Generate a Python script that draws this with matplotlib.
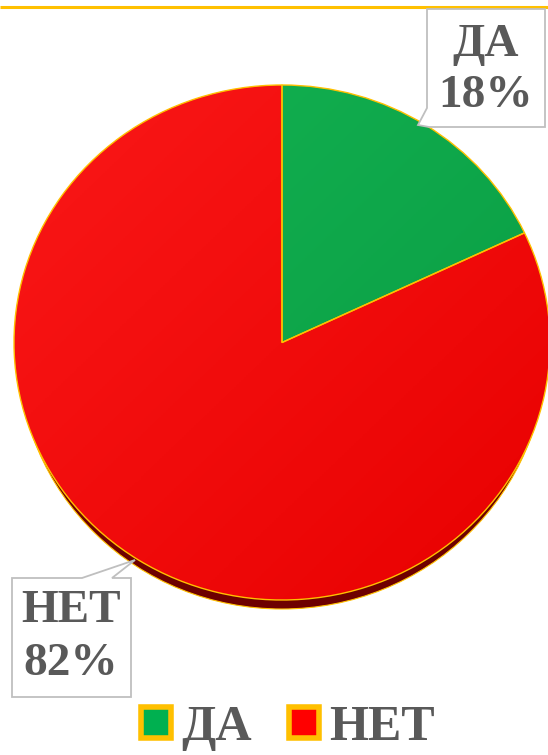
import numpy as np
import matplotlib
matplotlib.use("Agg")
import matplotlib.pyplot as plt
from matplotlib.patches import Patch, Ellipse, Polygon
from matplotlib.colors import LinearSegmentedColormap

labels = ["ДА", "НЕТ"]
values = [18, 82]
colors = ["#0BA84A", "#F20D0D"]
grad = [("#14B352", "#089A42"), ("#FA1818", "#E80000")]
legend_colors = ["#00B050", "#FF0000"]

W, H = 548, 755
fig = plt.figure(figsize=(W / 100, H / 100), dpi=100)

ov = fig.add_axes([0, 0, 1, 1], zorder=3)
ov.set_xlim(0, W)
ov.set_ylim(H, 0)
ov.axis("off")
ov.patch.set_alpha(0)

bg = fig.add_axes([0, 0, 1, 1], zorder=0)
bg.set_xlim(0, W)
bg.set_ylim(H, 0)
bg.axis("off")
bg.plot([0, W], [7, 7], color="#FFC000", lw=2.2, solid_capstyle="butt")

# pie placement (pixels)
px0, px1, py0, py1 = 14, 550, 85, 600
bg.add_patch(Ellipse(((px0 + px1) / 2, (py0 + py1) / 2 + 9), px1 - px0 - 8, py1 - py0,
                     facecolor="#6E0000", edgecolor="#FFC000", lw=0.8))

pax = fig.add_axes([px0 / W, 1 - py1 / H, (px1 - px0) / W, (py1 - py0) / H], zorder=1)
wedges, _ = pax.pie(values, colors=colors, startangle=90, counterclock=False,
                    wedgeprops=dict(edgecolor="#FFC000", linewidth=1.0))
pax.set_aspect("auto")
pax.set_xlim(-1, 1)
pax.set_ylim(-1, 1)
pax.axis("off")

yy, xx = np.mgrid[1:-1:300j, -1:1:300j]
t = ((xx - yy) + 2) / 4
for w, (c0, c1) in zip(wedges, grad):
    cmap = LinearSegmentedColormap.from_list("g", [c0, c1])
    im = pax.imshow(t, cmap=cmap, extent=(-1, 1, -1, 1), aspect="auto", zorder=1.5, vmin=0, vmax=1)
    im.set_clip_path(w)
for w in wedges:
    w.set_zorder(2)
    w.set_facecolor("none")

font = dict(family=["Liberation Serif", "DejaVu Serif"], weight="bold", color="#595959", size=34)
box_kw = dict(facecolor="white", edgecolor="#BFBFBF", lw=1.3, closed=True, joinstyle="miter")

# ДА callout
ov.add_patch(Polygon([(427, 9), (545, 9), (545, 127), (429, 127), (418, 125), (427, 108)], **box_kw))
ov.text(486, 45, f"{labels[0]}", ha="center", va="center", **font)
ov.text(486, 96, f"{values[0]}%", ha="center", va="center", **font)

# НЕТ callout
ov.add_patch(Polygon([(12, 578), (82, 578), (135, 560), (112, 578), (131, 578), (131, 697), (12, 697)], **box_kw))
ov.text(71, 611, f"{labels[1]}", ha="center", va="center", **font)
ov.text(71, 664, f"{values[1]}%", ha="center", va="center", **font)

handles = [Patch(facecolor=c, edgecolor="#FFC000", lw=4) for c in legend_colors]
leg = fig.legend(handles, labels, loc="center", bbox_to_anchor=(288 / W, 1 - 728 / H), ncol=2,
                 frameon=False, handlelength=0.6, handleheight=0.6, handletextpad=0.2,
                 columnspacing=0.75, borderpad=0, borderaxespad=0,
                 prop=dict(family="Liberation Serif", weight="bold", size=36))
for t_ in leg.get_texts():
    t_.set_color("#595959")

fig.savefig("out.png", dpi=100, facecolor="white")
